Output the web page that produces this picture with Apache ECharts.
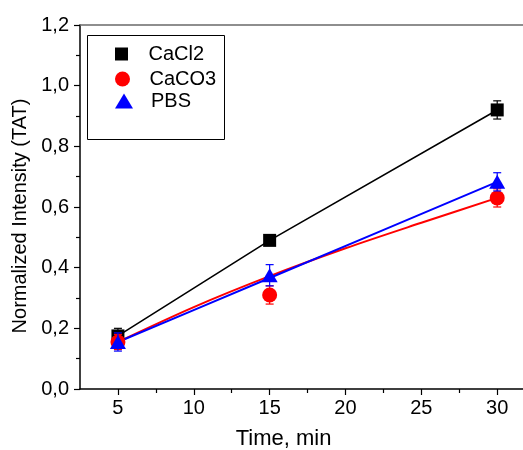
<!DOCTYPE html>
<html>
<head>
<meta charset="utf-8">
<script src="https://cdn.jsdelivr.net/npm/echarts@6/dist/echarts.min.js"></script>
<style>
  html, body { margin: 0; padding: 0; background: #fff; }
  #chart { width: 523px; height: 450px; }
</style>
</head>
<body>
<div id="chart"></div>
<script>
// Measurement times (min) and normalized TAT intensities with error bars
const times = [5, 15, 30];
const cacl2Mean = [0.175, 0.49, 0.92];
const cacl2Err = [0.025, 0.01, 0.03];
const caco3Mean = [0.155, 0.31, 0.63];
const caco3Err = [0.025, 0.03, 0.03];
const pbsMean = [0.155, 0.375, 0.683];
const pbsErr = [0.03, 0.035, 0.03];

// Trend curves drawn through the CaCO3 and PBS data
const caco3FitTimes = [5, 10, 15, 20, 25, 30];
const caco3Fit = [0.155, 0.27, 0.372, 0.464, 0.548, 0.63];
const pbsFitTimes = [5, 15, 30];
const pbsFit = [0.155, 0.366, 0.683];

// Axis ticks
const xMajorTicks = [5, 10, 15, 20, 25, 30];
const xMinorTicks = [7.5, 12.5, 17.5, 22.5, 27.5];

const FONT = 'Liberation Sans, Arial, sans-serif';
const BLACK = '#000000';
const RED = '#ff0000';
const BLUE = '#0000ff';

function pairs(xs, ys) {
  return xs.map((x, i) => [x, ys[i]]);
}

function errorBars(color, means, errs, z) {
  return {
    type: 'custom',
    z: z,
    silent: true,
    data: times.map((t, i) => [t, means[i], errs[i]]),
    encode: { x: 0, y: 1 },
    renderItem: function (params, api) {
      const x = api.value(0), m = api.value(1), e = api.value(2);
      const top = api.coord([x, m + e]);
      const bot = api.coord([x, m - e]);
      const hw = 4;
      const st = { stroke: color, lineWidth: 1.2 };
      return {
        type: 'group',
        children: [
          { type: 'line', shape: { x1: top[0], y1: top[1], x2: bot[0], y2: bot[1] }, style: st },
          { type: 'line', shape: { x1: top[0] - hw, y1: top[1], x2: top[0] + hw, y2: top[1] }, style: st },
          { type: 'line', shape: { x1: bot[0] - hw, y1: bot[1], x2: bot[0] + hw, y2: bot[1] }, style: st }
        ]
      };
    }
  };
}

const ICON_SQUARE = 'path://M0,0H10V10H0Z';
const ICON_TRIANGLE = 'path://M9,0L18,15H0Z';

function legendFor(name, icon, itemH, top) {
  return {
    data: [{ name: name, icon: icon }],
    left: 115,
    top: top,
    orient: 'vertical',
    padding: 0,
    itemWidth: 44,
    itemHeight: itemH,
    selectedMode: false,
    textStyle: { fontFamily: FONT, fontSize: 20, color: BLACK, lineHeight: 20 }
  };
}

const chart = echarts.init(document.getElementById('chart'), null, { renderer: 'canvas' });

const option = {
  backgroundColor: '#ffffff',
  animation: false,
  grid: { left: 80, top: 25, bottom: 61, right: 0, containLabel: false, outerBoundsMode: 'none' },
  legend: [
    legendFor('CaCl2', ICON_SQUARE, 13, 44),
    legendFor('CaCO3', 'circle', 15, 69),
    legendFor('PBS', ICON_TRIANGLE, 15, 91)
  ],
  graphic: [
    {
      type: 'rect',
      shape: { x: 87.5, y: 35.5, width: 137, height: 104 },
      style: { fill: 'none', stroke: BLACK, lineWidth: 1 },
      z: 100
    }
  ],
  xAxis: [
    {
      type: 'value',
      min: 2.5,
      max: 31.7,
      position: 'bottom',
      name: 'Time, min',
      nameLocation: 'middle',
      nameGap: 39,
      nameTextStyle: { fontFamily: FONT, fontSize: 22, color: BLACK, padding: [0, 36, 0, 0] },
      axisLine: { show: true, onZero: false, lineStyle: { color: BLACK, width: 1.5 } },
      axisTick: { show: true, inside: false, length: 6, customValues: xMajorTicks, lineStyle: { color: BLACK, width: 1.2 } },
      axisLabel: { show: true, customValues: xMajorTicks, margin: 9, fontFamily: FONT, fontSize: 20, color: BLACK },
      splitLine: { show: false }
    },
    {
      type: 'value',
      min: 2.5,
      max: 31.7,
      position: 'bottom',
      axisLine: { show: false },
      axisTick: { show: true, inside: false, length: 4, customValues: xMinorTicks, lineStyle: { color: BLACK, width: 1.2 } },
      axisLabel: { show: false },
      splitLine: { show: false }
    },
    {
      type: 'value',
      min: 2.5,
      max: 31.7,
      position: 'top',
      axisLine: { show: true, onZero: false, lineStyle: { color: '#6a6a6a', width: 1.5 } },
      axisTick: { show: false },
      axisLabel: { show: false },
      splitLine: { show: false }
    }
  ],
  yAxis: {
    type: 'value',
    min: 0,
    max: 1.2,
    interval: 0.2,
    name: 'Normalized Intensity (TAT)',
    nameLocation: 'middle',
    nameGap: 46,
    nameTextStyle: { fontFamily: FONT, fontSize: 20, color: BLACK, padding: [0, 18, 0, 0] },
    axisLine: { show: true, onZero: false, lineStyle: { color: BLACK, width: 1.5 } },
    axisTick: { show: true, inside: false, length: 6, lineStyle: { color: BLACK, width: 1.2 } },
    minorTick: { show: true, splitNumber: 2, length: 4, lineStyle: { color: BLACK, width: 1.2 } },
    axisLabel: {
      margin: 11,
      fontFamily: FONT,
      fontSize: 20,
      color: BLACK,
      formatter: function (v) { return v.toFixed(1).replace('.', ','); }
    },
    splitLine: { show: false }
  },
  series: [
    {
      type: 'line',
      data: pairs(times, cacl2Mean),
      showSymbol: false,
      symbol: 'none',
      lineStyle: { color: BLACK, width: 1.6 },
      z: 2
    },
    {
      type: 'line',
      data: pairs(caco3FitTimes, caco3Fit),
      smooth: 0.3,
      showSymbol: false,
      symbol: 'none',
      lineStyle: { color: RED, width: 2 },
      z: 3
    },
    {
      type: 'line',
      data: pairs(pbsFitTimes, pbsFit),
      smooth: 0.2,
      showSymbol: false,
      symbol: 'none',
      lineStyle: { color: BLUE, width: 2 },
      z: 4
    },
    errorBars(BLACK, cacl2Mean, cacl2Err, 5),
    {
      name: 'CaCl2',
      type: 'scatter',
      data: pairs(times, cacl2Mean),
      symbol: 'rect',
      symbolSize: 13,
      itemStyle: { color: BLACK, opacity: 1 },
      z: 6
    },
    errorBars(RED, caco3Mean, caco3Err, 7),
    {
      name: 'CaCO3',
      type: 'scatter',
      data: pairs(times, caco3Mean),
      symbol: 'circle',
      symbolSize: 15,
      itemStyle: { color: RED, opacity: 1 },
      z: 8
    },
    errorBars(BLUE, pbsMean, pbsErr, 9),
    {
      name: 'PBS',
      type: 'scatter',
      data: pairs(times, pbsMean),
      symbol: 'triangle',
      symbolSize: [16, 14],
      itemStyle: { color: BLUE, opacity: 1 },
      z: 10
    }
  ]
};

chart.setOption(option);
</script>
</body>
</html>
